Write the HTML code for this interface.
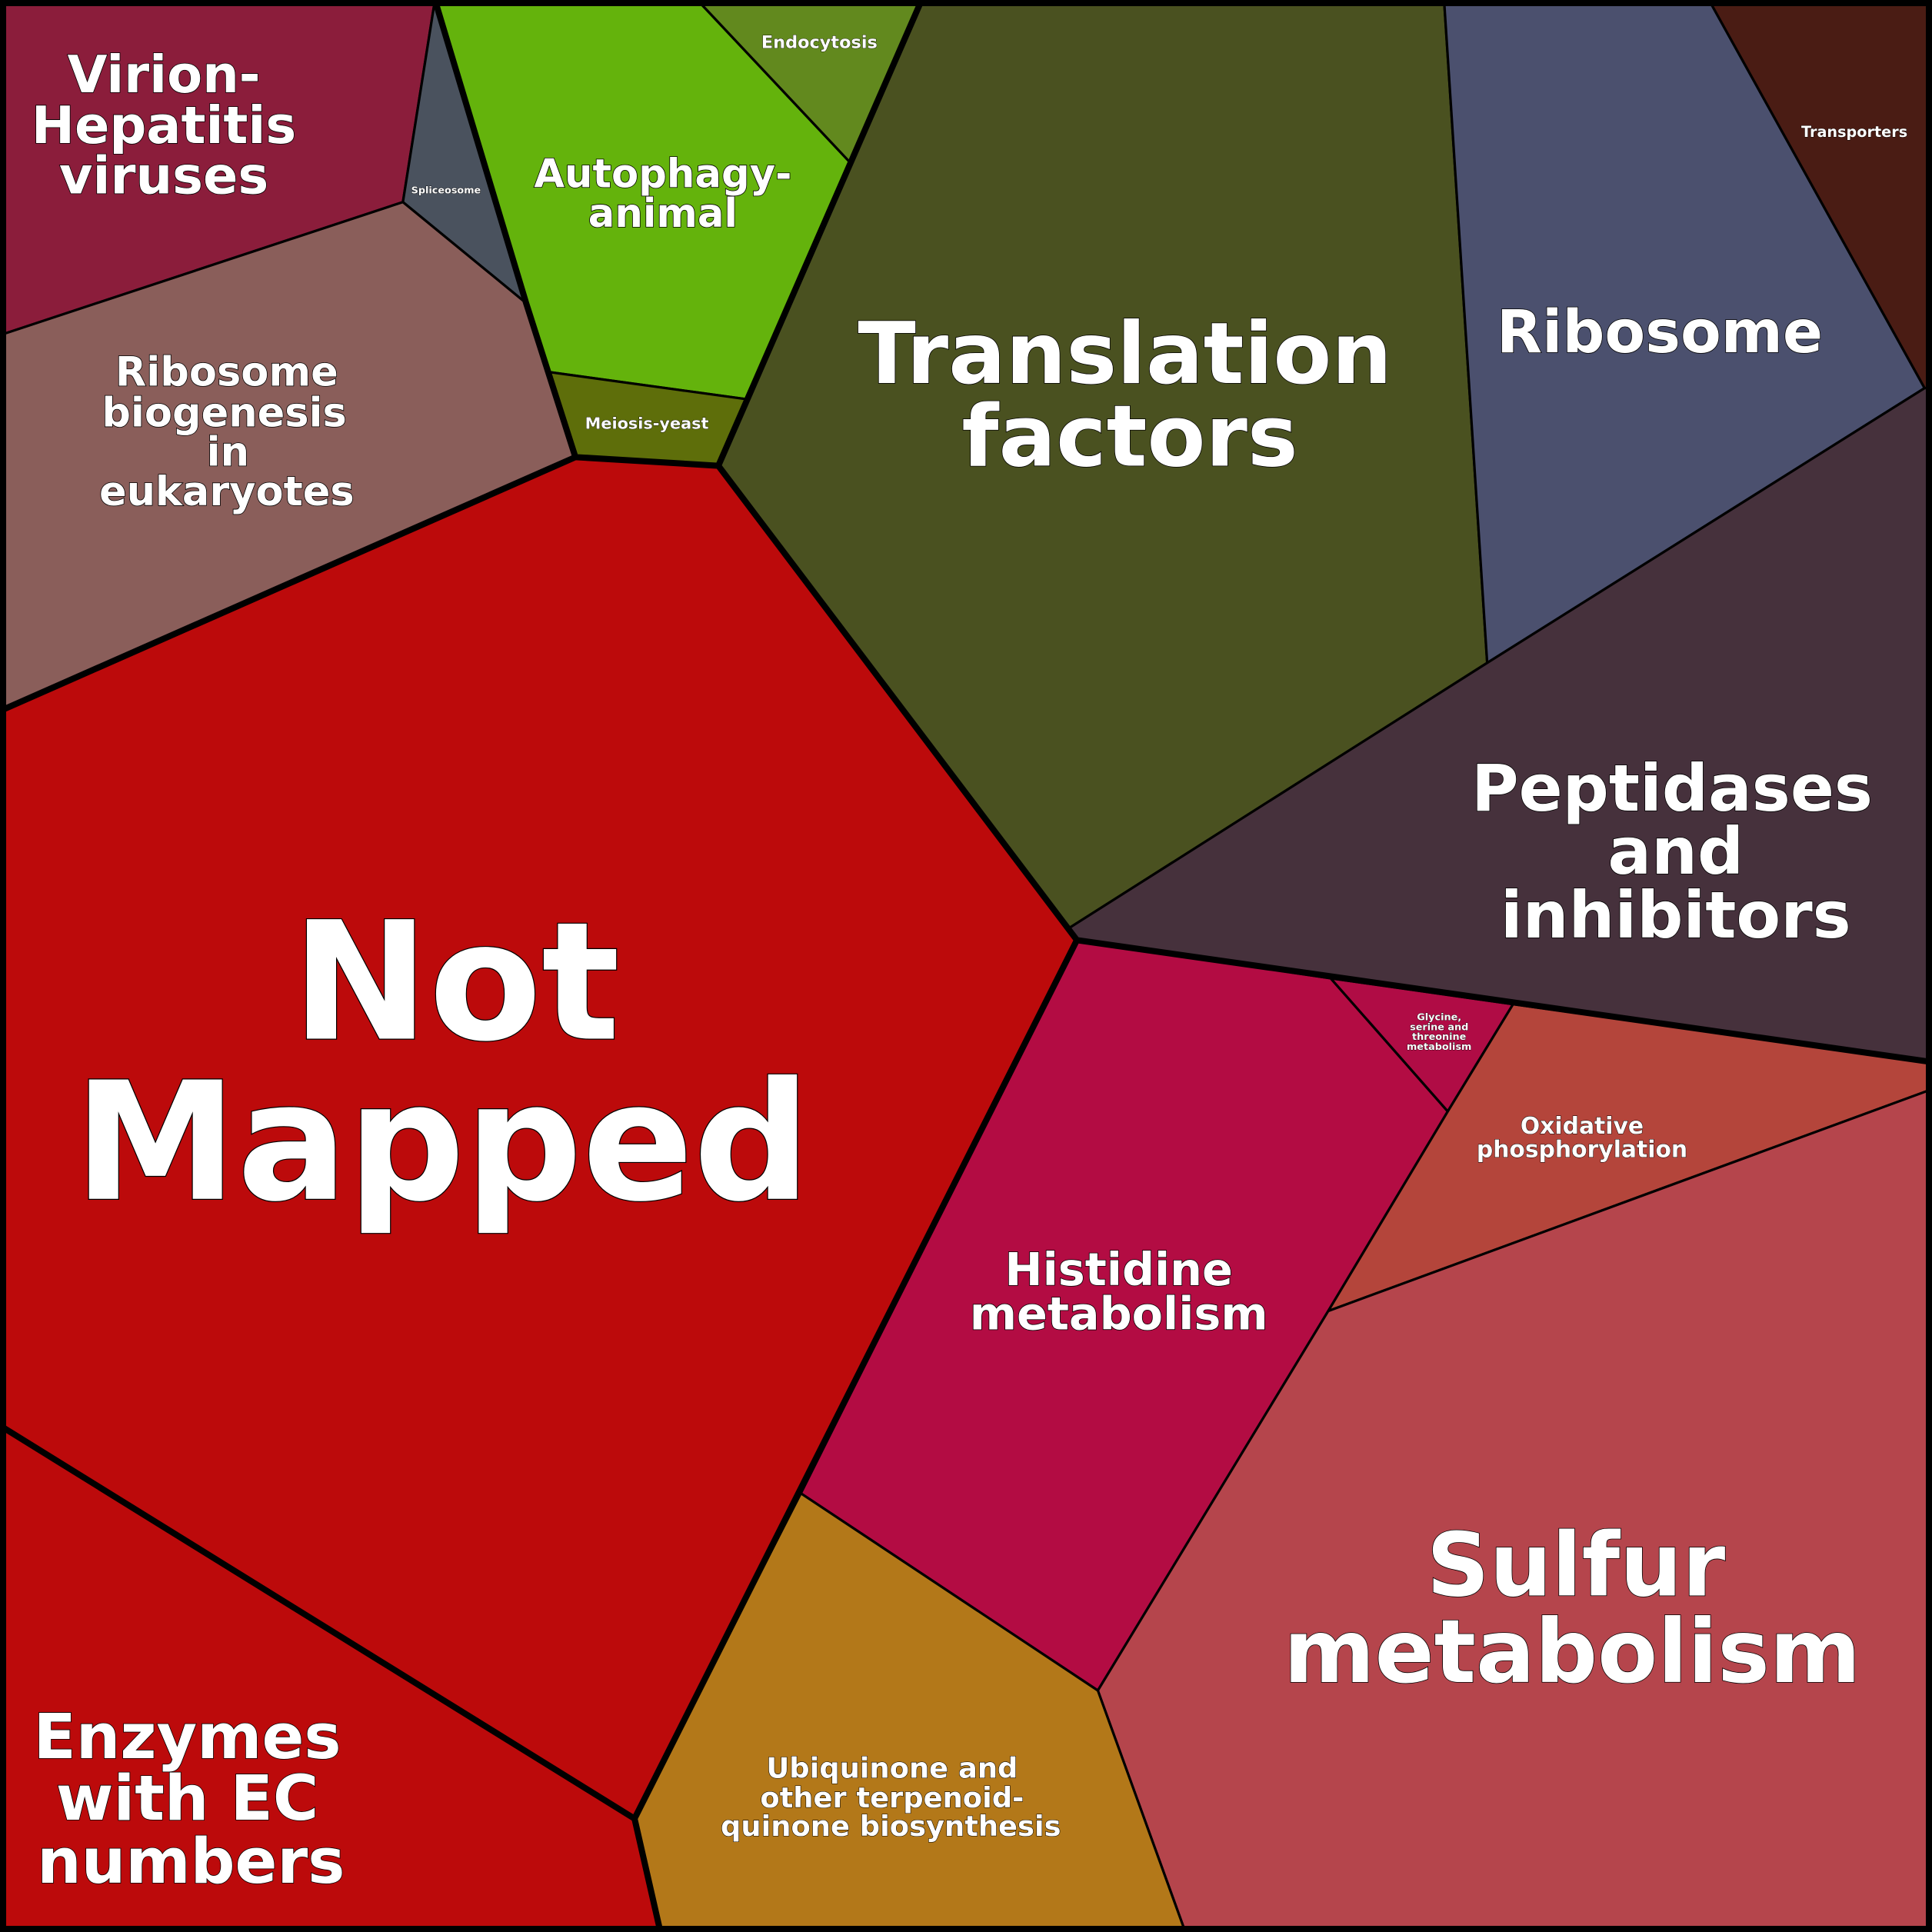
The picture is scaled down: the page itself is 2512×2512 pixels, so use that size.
<!DOCTYPE html>
<html><head><meta charset="utf-8"><style>
html,body{margin:0;padding:0;background:#000;}
svg{display:block;}
text{font-family:"DejaVu Sans","Liberation Sans",sans-serif;font-weight:bold;fill:#fff;stroke:#000;paint-order:stroke;text-anchor:middle;}
</style></head><body>
<svg width="2512" height="2512" viewBox="0 0 1568 1568" xmlns="http://www.w3.org/2000/svg">
<g stroke="#000" stroke-width="2" stroke-linejoin="round">
<polygon fill="#8B1D3B" points="0,0 353,0 327,164 0,272"/>
<polygon fill="#4A525E" points="353,0 427,246 327,164"/>
<polygon fill="#8A5E5A" points="0,272 327,164 427,246 467,371 0,577"/>
<polygon fill="#64B30C" points="353,0 566,0 691,133 606,324 446,302 427,246"/>
<polygon fill="#62891E" points="566,0 748,0 691,133"/>
<polygon fill="#5E6E0A" points="446,302 606,324 583,378 467,371"/>
<polygon fill="#4A5120" points="748,0 1172,0 1207,538 868,753 583,378 606,324 691,133"/>
<polygon fill="#4B506E" points="1172,0 1387,0 1562,315 1207,538"/>
<polygon fill="#4A1C14" points="1387,0 1568,0 1568,315 1562,315"/>
<polygon fill="#46313C" points="1207,538 1562,315 1568,315 1568,862 1228,815 1080,794 874,763 868,753"/>
<polygon fill="#BC0A0B" points="0,577 467,371 583,378 868,753 874,763 650,1212 515,1476 0,1157"/>
<polygon fill="#BC0A0B" points="0,1157 515,1476 536,1568 0,1568"/>
<polygon fill="#B30C43" points="874,763 1080,794 1175,902 1078,1064 891,1372 650,1212"/>
<polygon fill="#B00C45" points="1080,794 1228,815 1175,902"/>
<polygon fill="#B4453B" points="1228,815 1568,862 1568,884 1078,1064 1175,902"/>
<polygon fill="#B5454C" points="1078,1064 1568,884 1568,1568 962,1568 891,1372"/>
<polygon fill="#B37819" points="650,1212 891,1372 962,1568 536,1568 515,1476"/>
</g>
<g fill="none" stroke="#000" stroke-width="5" stroke-linejoin="round">
<polyline points="353,0 427,246 467,371 583,378 748,0"/>
<polyline points="0,577 467,371"/>
<polyline points="583,378 874,763 1568,862"/>
<polyline points="874,763 515,1476 536,1568"/>
<polyline points="0,1157 515,1476"/>
<rect x="2.5" y="2.5" width="1563" height="1563"/>
</g>
<g stroke-width="1">
<text font-size="41.8" x="133" y="75">Virion-</text>
<text font-size="41.8" x="133" y="116">Hepatitis</text>
<text font-size="41.8" x="133" y="157">viruses</text>
<text font-size="8" x="362" y="157" stroke-width="0.5">Spliceosome</text>
<text font-size="32.8" x="184" y="313">Ribosome</text>
<text font-size="32.8" x="182" y="346">biogenesis</text>
<text font-size="32.8" x="185" y="378">in</text>
<text font-size="32.8" x="184" y="410">eukaryotes</text>
<text font-size="32" x="538" y="152">Autophagy-</text>
<text font-size="32" x="538" y="184">animal</text>
<text font-size="14" x="665" y="39" stroke-width="0.5">Endocytosis</text>
<text font-size="13" x="525" y="348" stroke-width="0.5">Meiosis-yeast</text>
<text font-size="69" x="913" y="311">Translation</text>
<text font-size="69" x="917" y="378">factors</text>
<text font-size="48" x="1347" y="286">Ribosome</text>
<text font-size="12" x="1505" y="111" stroke-width="0.5">Transporters</text>
<text font-size="52.5" x="1357" y="658">Peptidases</text>
<text font-size="52.5" x="1360" y="709">and</text>
<text font-size="52.5" x="1360" y="761">inhibitors</text>
<text font-size="133" x="370" y="843" stroke-width="1.5">Not</text>
<text font-size="133" x="359" y="973" stroke-width="1.5">Mapped</text>
<text font-size="50.5" x="152" y="1427">Enzymes</text>
<text font-size="50.5" x="152" y="1477">with EC</text>
<text font-size="50.5" x="155" y="1528">numbers</text>
<text font-size="36.7" x="908" y="1043">Histidine</text>
<text font-size="36.7" x="908" y="1079">metabolism</text>
<text font-size="8" x="1168" y="828" stroke-width="0.4">Glycine,</text>
<text font-size="8" x="1168" y="836" stroke-width="0.4">serine and</text>
<text font-size="8" x="1168" y="844" stroke-width="0.4">threonine</text>
<text font-size="8" x="1168" y="852" stroke-width="0.4">metabolism</text>
<text font-size="18.6" x="1284" y="920" stroke-width="0.6">Oxidative</text>
<text font-size="18.6" x="1284" y="939" stroke-width="0.6">phosphorylation</text>
<text font-size="71" x="1279" y="1295">Sulfur</text>
<text font-size="71" x="1276" y="1365">metabolism</text>
<text font-size="23" x="724" y="1443" stroke-width="0.7">Ubiquinone and</text>
<text font-size="23" x="724" y="1467" stroke-width="0.7">other terpenoid-</text>
<text font-size="23" x="723" y="1490" stroke-width="0.7">quinone biosynthesis</text>
</g>
</svg>
</body></html>
